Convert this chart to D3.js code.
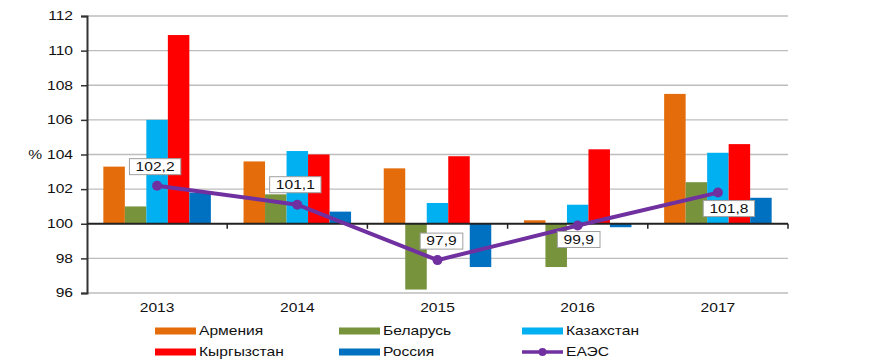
<!DOCTYPE html>
<html>
<head>
<meta charset="utf-8">
<script src="https://cdn.jsdelivr.net/npm/d3@7"></script>
<style>
  body { margin: 0; background: #fff; }
  text { font-family: "Liberation Sans", Arial, sans-serif; }
</style>
</head>
<body>
<div id="chart"></div>
<script>
const years = ["2013", "2014", "2015", "2016", "2017"];
const countries = ["Армения", "Беларусь", "Казахстан", "Кыргызстан", "Россия"];
const armenia = [103.3, 103.6, 103.2, 100.2, 107.5];
const belarus = [101.0, 101.7, 96.2, 97.5, 102.4];
const kazakhstan = [106.0, 104.2, 101.2, 101.1, 104.1];
const kyrgyzstan = [110.9, 104.0, 103.9, 104.3, 104.6];
const russia = [101.8, 100.7, 97.5, 99.8, 101.5];
const eaeu = [102.2, 101.1, 97.9, 99.9, 101.8];
const eaeuName = "ЕАЭС";
const yTicks = [96, 98, 100, 102, 104, 106, 108, 110, 112];

const series = [armenia, belarus, kazakhstan, kyrgyzstan, russia];
const colors = ["#E46C0A", "#77933C", "#00B0F0", "#FF0000", "#0070C0"];
const lineColor = "#7030A0";
// where each value box sits relative to its point
const labelOffsets = [[-2, -19], [-2, -20], [4, -19], [1, 14], [11, 16]];

const width = 869, height = 361;
const fontSize = 12;
const sx = 1.3; // the source text is drawn wide

const svg = d3.select("#chart").append("svg")
  .attr("width", width)
  .attr("height", height);

// wide text helper
function wideText(parent, x, y, str, anchor) {
  return parent.append("text")
    .attr("transform", `translate(${x},${y}) scale(${sx},1)`)
    .attr("dy", "0.35em")
    .attr("text-anchor", anchor || "start")
    .attr("font-size", fontSize)
    .attr("fill", "#111")
    .text(str);
}

const x = d3.scaleBand().domain(years).range([87, 788]).padding(0);
const xs = d3.scaleBand().domain(countries).range([0, x.bandwidth()])
  .paddingInner(0).paddingOuter(0.76);
const y = d3.scaleLinear().domain([96, 112]).range([293, 16]);

// grid
svg.append("g")
  .selectAll("line")
  .data(yTicks.filter(t => t !== 100))
  .enter().append("line")
  .attr("x1", 87).attr("x2", 788)
  .attr("y1", d => y(d)).attr("y2", d => y(d))
  .attr("stroke", "#bdbdbd")
  .attr("stroke-width", 1.3);

// bars
series.forEach((vals, i) => {
  svg.append("g")
    .selectAll("rect")
    .data(vals)
    .enter().append("rect")
    .attr("x", (d, j) => x(years[j]) + xs(countries[i]))
    .attr("width", xs.bandwidth())
    .attr("y", d => Math.min(y(d), y(100)))
    .attr("height", d => Math.abs(y(d) - y(100)))
    .attr("fill", colors[i]);
});

// y axis
const yAxis = svg.append("g")
  .attr("transform", "translate(87,0)")
  .call(d3.axisLeft(y).tickValues(yTicks).tickSize(6).tickFormat(d3.format("d")));
yAxis.select(".domain").attr("stroke", "#333").attr("stroke-width", 2);
yAxis.selectAll(".tick line").attr("stroke", "#333").attr("stroke-width", 1.5);
yAxis.selectAll(".tick text")
  .attr("x", null)
  .attr("transform", `translate(-14,0) scale(${sx},1)`)
  .attr("font-size", fontSize)
  .attr("fill", "#111")
  .attr("font-family", "Liberation Sans, Arial, sans-serif");

wideText(svg, 42, y(104), "%", "end");

// x axis at 100
const xAxisY = y(100);
svg.append("line")
  .attr("x1", 87).attr("x2", 788)
  .attr("y1", xAxisY).attr("y2", xAxisY)
  .attr("stroke", "#222").attr("stroke-width", 2);
svg.append("g")
  .selectAll("line")
  .data(years.slice(1).concat(["end"]))
  .enter().append("line")
  .attr("x1", d => d === "end" ? 788 : x(d))
  .attr("x2", d => d === "end" ? 788 : x(d))
  .attr("y1", xAxisY).attr("y2", xAxisY + 5)
  .attr("stroke", "#222").attr("stroke-width", 1.5);

years.forEach(yr => {
  wideText(svg, x(yr) + x.bandwidth() / 2, 308, yr, "middle");
});

// EAEU line
const line = d3.line()
  .x((d, j) => x(years[j]) + x.bandwidth() / 2)
  .y(d => y(d));
svg.append("path")
  .datum(eaeu)
  .attr("d", line)
  .attr("fill", "none")
  .attr("stroke", lineColor)
  .attr("stroke-width", 4);
svg.append("g")
  .selectAll("circle")
  .data(eaeu)
  .enter().append("circle")
  .attr("cx", (d, j) => x(years[j]) + x.bandwidth() / 2)
  .attr("cy", d => y(d))
  .attr("r", 5)
  .attr("fill", lineColor);

// value boxes
const fmt = v => d3.format(".1f")(v).replace(".", ",");
eaeu.forEach((v, j) => {
  const cx = x(years[j]) + x.bandwidth() / 2 + labelOffsets[j][0];
  const cy = y(v) + labelOffsets[j][1];
  const g = svg.append("g");
  const t = wideText(g, cx, cy, fmt(v), "middle");
  const w = t.node().getBBox().width * sx;
  g.insert("rect", "text")
    .attr("x", cx - w / 2 - 6).attr("y", cy - 8)
    .attr("width", w + 12).attr("height", 16)
    .attr("fill", "#fff")
    .attr("stroke", "#a0a0a0")
    .attr("stroke-width", 1);
});

// legend
const legendItems = countries.map((c, i) => ({ name: c, color: colors[i], type: "bar" }))
  .concat([{ name: eaeuName, color: lineColor, type: "line" }]);
const legendX = [155, 339, 522];
const legendY = [331, 352];
legendItems.forEach((d, i) => {
  const lx = legendX[i % 3], ly = legendY[Math.floor(i / 3)];
  if (d.type === "bar") {
    svg.append("rect")
      .attr("x", lx).attr("y", ly - 3.5)
      .attr("width", 41).attr("height", 7)
      .attr("fill", d.color);
  } else {
    svg.append("line")
      .attr("x1", lx).attr("x2", lx + 41)
      .attr("y1", ly).attr("y2", ly)
      .attr("stroke", d.color).attr("stroke-width", 3.5);
    svg.append("circle")
      .attr("cx", lx + 20.5).attr("cy", ly).attr("r", 4)
      .attr("fill", d.color);
  }
  wideText(svg, lx + 44, ly, d.name, "start");
});
</script>
</body>
</html>
